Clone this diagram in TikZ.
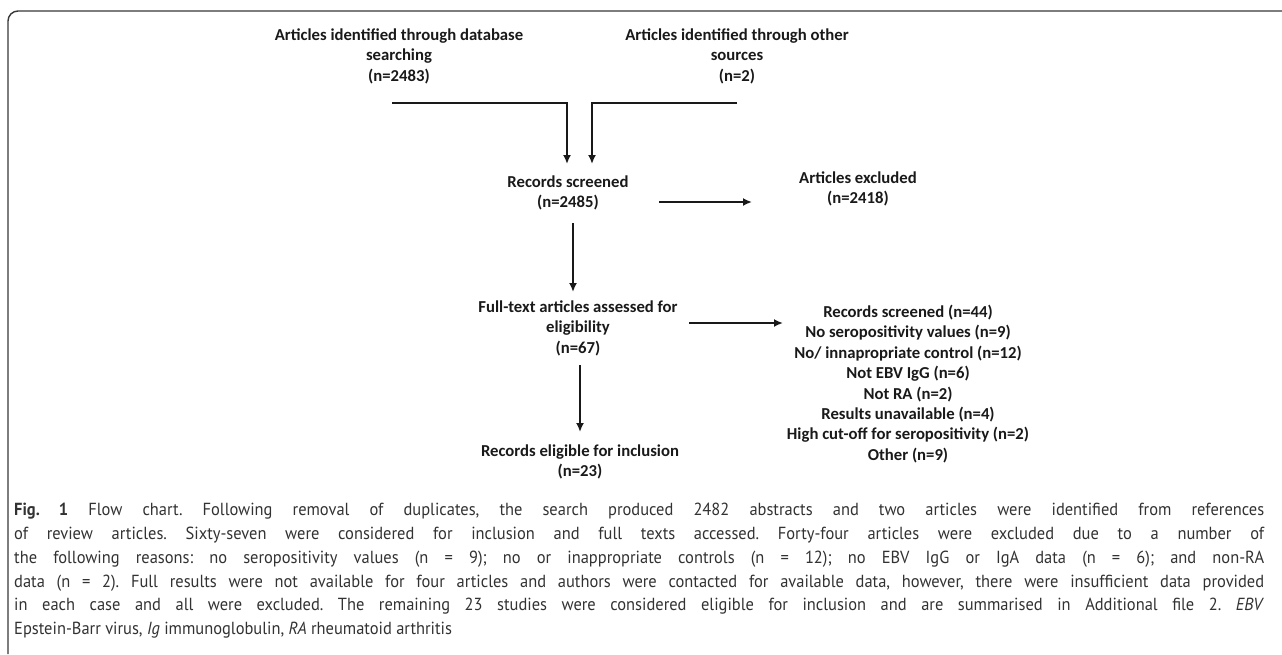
\documentclass[tikz,border=0pt]{standalone}
\usepackage{fontspec}
\usepackage{tikz}
\usetikzlibrary{arrows,arrows.meta,positioning}
\newfontfamily\flowfont{Carlito}
\newfontfamily\capfont[FakeStretch=0.94]{PT Sans}

\begin{document}
\begin{tikzpicture}[x=1pt,y=-1pt]
			\definecolor{lineColour}{RGB}{25, 25, 25}
			\definecolor{captionColour}{RGB}{50, 50, 50}
			\definecolor{frameColour}{RGB}{55, 55, 55}
			\tikzstyle{flowtext}=[align=center, inner sep=0pt, text=lineColour, font=\flowfont\bfseries\fontsize{16.7}{20.4}\selectfont]
			\tikzstyle{arrow}=[-{Latex[length=9pt, width=8pt]}, line width=1.8pt, color=lineColour]
			\tikzstyle{caption}=[anchor=north west, inner sep=0pt, text width=1250pt, align=justify, text=captionColour, font=\capfont\fontsize{17.5}{23.8}\selectfont]

			\useasboundingbox (0,0) rectangle (1282,654);
			\draw [line width=1.4pt, color=frameColour, rounded corners=10pt] (1282,11) -| (8,654);

			\node [flowtext, xshift=399pt, yshift=-56pt] (database) {Articles identified through database\\searching\\(n=2483)};
			\node [flowtext, xshift=737pt, yshift=-56pt] (other) {Articles identified through other\\sources\\(n=2)};
			\node [flowtext, xshift=568pt, yshift=-193pt] (screened) {Records screened\\(n=2485)};
			\node [flowtext, xshift=858pt, yshift=-189pt] (excluded) {Articles excluded\\(n=2418)};
			\node [flowtext, xshift=578pt, yshift=-328pt] (fulltext) {Full-text articles assessed for\\eligibility\\(n=67)};
			\node [flowtext, xshift=908pt, yshift=-384pt] (reasons) {Records screened (n=44)\\No seropositivity values (n=9)\\No/ innapropriate control (n=12)\\Not EBV IgG (n=6)\\Not RA (n=2)\\Results unavailable (n=4)\\High cut-off for seropositivity (n=2)\\Other (n=9)};
			\node [flowtext, xshift=580pt, yshift=-462pt] (eligible) {Records eligible for inclusion\\(n=23)};

			\node [caption, xshift=14pt, yshift=-503pt] (legend) {\frenchspacing\hyphenpenalty=10000\tolerance=10000\textbf{Fig. 1} Flow chart. Following removal of duplicates, the search produced 2482 abstracts and two articles were identified from references\linebreak of review articles. Sixty-seven were considered for inclusion and full texts accessed. Forty-four articles were excluded due to a number of\linebreak the following reasons: no seropositivity values (n = 9); no or inappropriate controls (n = 12); no EBV IgG or IgA data (n = 6); and non-RA\linebreak data (n = 2). Full results were not available for four articles and authors were contacted for available data, however, there were insufficient data provided\linebreak in each case and all were excluded. The remaining 23 studies were considered eligible for inclusion and are summarised in Additional file 2. \textit{EBV}\linebreak Epstein-Barr virus, \textit{Ig} immunoglobulin, \textit{RA} rheumatoid arthritis};

			\draw [arrow] ([xshift=-7pt, yshift=-47pt]database.center) -| ([xshift=-1pt, yshift=29pt]screened.center);
			\draw [arrow] ([yshift=-47pt]other.center) -| ([xshift=24pt, yshift=29pt]screened.center);
			\path [arrow]
			([xshift=91pt, yshift=-9pt]screened.center) edge ([xshift=-106pt, yshift=-13pt]excluded.center)
			([xshift=5pt, yshift=-30pt]screened.center) edge ([xshift=-5pt, yshift=36pt]fulltext.center)
			([xshift=111pt, yshift=5pt]fulltext.center) edge ([xshift=-125pt, yshift=61pt]reasons.center)
			([xshift=2pt, yshift=-37pt]fulltext.center) edge ([yshift=30pt]eligible.center);
		\end{tikzpicture}
\end{document}
